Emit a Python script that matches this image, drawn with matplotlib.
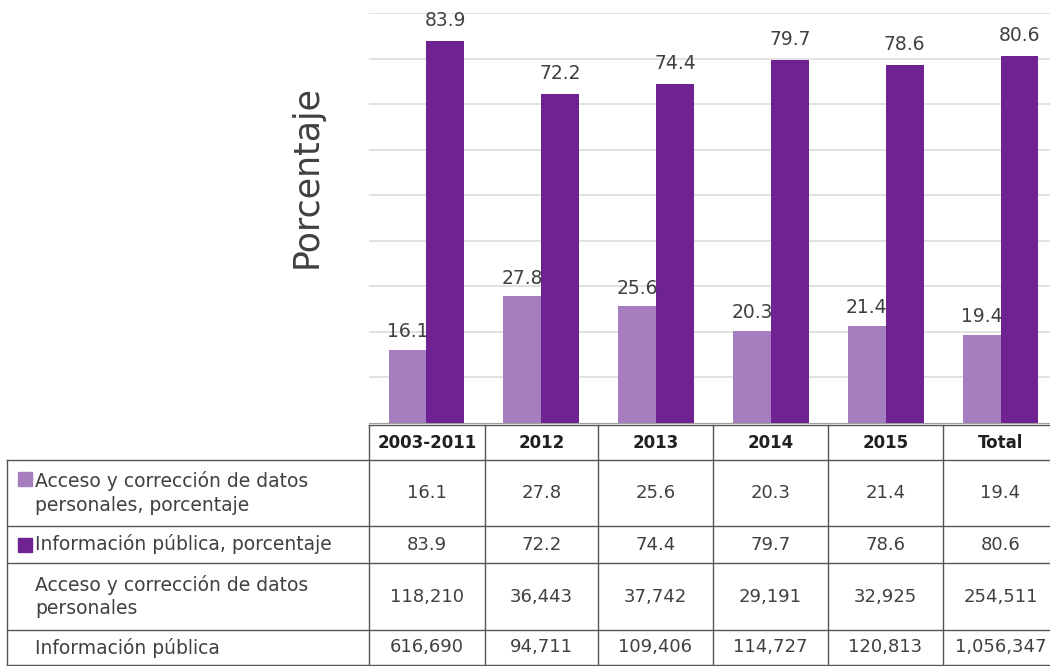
import numpy as np
import matplotlib
matplotlib.use('Agg')
import matplotlib.pyplot as plt
from matplotlib.patches import Rectangle

# Datos
periodos = ['2003-2011', '2012', '2013', '2014', '2015', 'Total']
pct_acceso = [16.1, 27.8, 25.6, 20.3, 21.4, 19.4]
pct_publica = [83.9, 72.2, 74.4, 79.7, 78.6, 80.6]
n_acceso = ['118,210', '36,443', '37,742', '29,191', '32,925', '254,511']
n_publica = ['616,690', '94,711', '109,406', '114,727', '120,813', '1,056,347']
etiquetas_filas = [
    'Acceso y corrección de datos\npersonales, porcentaje',
    'Información pública, porcentaje',
    'Acceso y corrección de datos\npersonales',
    'Información pública',
]

c_claro = '#A67DBF'
c_oscuro = '#6F2291'
c_texto = '#404040'

plt.rcParams['font.family'] = ['DejaVu Sans']

W, H = 1050, 666
fig = plt.figure(figsize=(W / 100, H / 100), dpi=100)

# posiciones en pixeles
x_cols = [369, 485, 598, 713, 828, 943, 1058]
y_base = 423
y_top = 13.3

ax = fig.add_axes([x_cols[0] / W, (H - y_base) / H,
                   (x_cols[-1] - x_cols[0]) / W, (y_base - y_top) / H])
x = np.arange(len(periodos))
ancho = 0.33
b1 = ax.bar(x - ancho / 2, pct_acceso, ancho, color=c_claro, zorder=3)
b2 = ax.bar(x + ancho / 2, pct_publica, ancho, color=c_oscuro, zorder=3)
ax.bar_label(b1, labels=[f'{v:.1f}' for v in pct_acceso], padding=6,
             fontsize=13.5, color=c_texto)
ax.bar_label(b2, labels=[f'{v:.1f}' for v in pct_publica], padding=8,
             fontsize=13.5, color=c_texto)
ax.set_xlim(-0.5, len(periodos) - 0.5)
ax.set_ylim(0, 90)
ax.set_yticks(np.arange(10, 91, 10))
ax.yaxis.grid(True, color='#DCDCDC', linewidth=1.2, zorder=0)
ax.tick_params(left=False, bottom=False, labelleft=False, labelbottom=False)
for s in ['top', 'right', 'left']:
    ax.spines[s].set_visible(False)
ax.spines['bottom'].set_color('#A0A0A0')
ax.set_facecolor('none')

fig.text(307, H - 177, 'Porcentaje', transform=None, rotation=90,
         ha='center', va='center', fontsize=25, color=c_texto)

# Tabla de datos
tb = fig.add_axes([0, 0, 1, 1])
tb.set_xlim(0, W)
tb.set_ylim(H, 0)
tb.axis('off')

y_rows = [425, 460, 526, 563, 630, 665]
x_left = 7
lc = '#555555'
lw = 1.0

for xc in x_cols:
    tb.plot([xc, xc], [y_rows[0], y_rows[-1]], color=lc, lw=lw)
tb.plot([x_left, x_left], [y_rows[1], y_rows[-1]], color=lc, lw=lw)
tb.plot([x_cols[0], x_cols[-1]], [y_rows[0], y_rows[0]], color=lc, lw=lw)
for yr in y_rows[1:]:
    tb.plot([x_left, x_cols[-1]], [yr, yr], color=lc, lw=lw)

for i, p in enumerate(periodos):
    xm = (x_cols[i] + x_cols[i + 1]) / 2
    tb.text(xm, (y_rows[0] + y_rows[1]) / 2, p, ha='center', va='center',
            fontsize=12, fontweight='bold', color='#202020')

filas = [[f'{v:.1f}' for v in pct_acceso],
         [f'{v:.1f}' for v in pct_publica],
         n_acceso, n_publica]
for r, (etq, vals) in enumerate(zip(etiquetas_filas, filas)):
    ym = (y_rows[r + 1] + y_rows[r + 2]) / 2
    tb.text(35, ym, etq, ha='left', va='center', fontsize=13.5,
            color=c_texto, linespacing=1.3)
    for i, v in enumerate(vals):
        xm = (x_cols[i] + x_cols[i + 1]) / 2
        tb.text(xm, ym, v, ha='center', va='center', fontsize=13,
                color=c_texto)

# marcadores de leyenda
for yc, col in [(479, c_claro), (545, c_oscuro)]:
    tb.add_patch(Rectangle((18, yc - 7), 14, 14, color=col))

fig.savefig('out.png', dpi=100)
